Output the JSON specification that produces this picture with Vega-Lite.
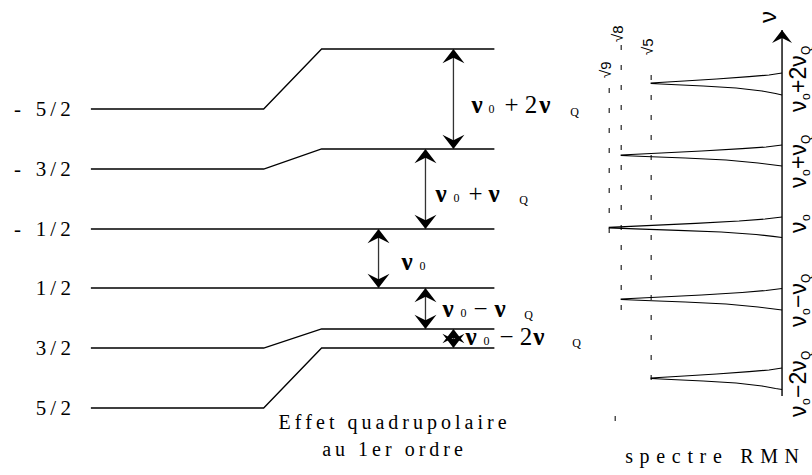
{
  "$schema": "https://vega.github.io/schema/vega-lite/v6.json",
  "width": 812,
  "height": 475,
  "autosize": {"type": "fit", "contains": "padding"},
  "padding": 0,
  "background": "white",
  "config": {"view": {"stroke": null}},
  "datasets": {
    "levels": [
      {"m": "-5/2", "label": "-\u2002\u20095\u2009/\u20092", "i": 0, "x": 91, "y": 109},
      {"m": "-5/2", "label": "", "i": 1, "x": 264, "y": 109},
      {"m": "-5/2", "label": "", "i": 2, "x": 322, "y": 49},
      {"m": "-5/2", "label": "", "i": 3, "x": 495, "y": 49},
      {"m": "-3/2", "label": "-\u2002\u20093\u2009/\u20092", "i": 0, "x": 91, "y": 169},
      {"m": "-3/2", "label": "", "i": 1, "x": 264, "y": 169},
      {"m": "-3/2", "label": "", "i": 2, "x": 322, "y": 149},
      {"m": "-3/2", "label": "", "i": 3, "x": 495, "y": 149},
      {"m": "-1/2", "label": "-\u2002\u20091\u2009/\u20092", "i": 0, "x": 91, "y": 229},
      {"m": "-1/2", "label": "", "i": 3, "x": 495, "y": 229},
      {"m": "1/2", "label": "1\u2009/\u20092", "i": 0, "x": 91, "y": 288},
      {"m": "1/2", "label": "", "i": 3, "x": 495, "y": 288},
      {"m": "3/2", "label": "3\u2009/\u20092", "i": 0, "x": 91, "y": 348},
      {"m": "3/2", "label": "", "i": 1, "x": 264, "y": 348},
      {"m": "3/2", "label": "", "i": 2, "x": 322, "y": 329},
      {"m": "3/2", "label": "", "i": 3, "x": 495, "y": 329},
      {"m": "5/2", "label": "5\u2009/\u20092", "i": 0, "x": 91, "y": 408},
      {"m": "5/2", "label": "", "i": 1, "x": 264, "y": 408},
      {"m": "5/2", "label": "", "i": 2, "x": 322, "y": 348},
      {"m": "5/2", "label": "", "i": 3, "x": 495, "y": 348}
    ],
    "transitions": [
      {"t": "v0+2vQ", "x": 454, "y": 49, "y2": 149},
      {"t": "v0+vQ", "x": 426, "y": 149, "y2": 229},
      {"t": "v0", "x": 379, "y": 229, "y2": 288},
      {"t": "v0-vQ", "x": 426, "y": 288, "y2": 329},
      {"t": "v0-2vQ", "x": 454, "y": 329, "y2": 348}
    ],
    "transitionText": [
      {"t": "ν", "k": "nu", "x": 472, "y": 113},
      {"t": "0", "k": "small", "x": 489, "y": 113},
      {"t": "+ 2", "k": "big", "x": 505, "y": 113},
      {"t": "ν", "k": "nu", "x": 540, "y": 113},
      {"t": "Q", "k": "small", "x": 571, "y": 116},
      {"t": "ν", "k": "nu", "x": 436, "y": 202},
      {"t": "0", "k": "small", "x": 454, "y": 202},
      {"t": "+", "k": "big", "x": 469, "y": 202},
      {"t": "ν", "k": "nu", "x": 489, "y": 202},
      {"t": "Q", "k": "small", "x": 520, "y": 204},
      {"t": "ν", "k": "nu", "x": 402, "y": 270},
      {"t": "0", "k": "small", "x": 420, "y": 270},
      {"t": "ν", "k": "nu", "x": 443, "y": 317},
      {"t": "0", "k": "small", "x": 461, "y": 317},
      {"t": "−", "k": "big", "x": 474, "y": 317},
      {"t": "ν", "k": "nu", "x": 495, "y": 317},
      {"t": "Q", "k": "small", "x": 525, "y": 319},
      {"t": "ν", "k": "nu", "x": 466, "y": 345},
      {"t": "0", "k": "small", "x": 484, "y": 345},
      {"t": "− 2", "k": "big", "x": 500, "y": 345},
      {"t": "ν", "k": "nu", "x": 534, "y": 345},
      {"t": "Q", "k": "small", "x": 573, "y": 347}
    ],
    "ratios": [
      {"r": "√9", "x": 610, "y": 88, "y2": 247, "ly": 78},
      {"r": "√8", "x": 622, "y": 45, "y2": 320, "ly": 42},
      {"r": "√5", "x": 652, "y": 75, "y2": 393, "ly": 55},
      {"r": "", "x": 616, "y": 416, "y2": 421, "ly": 0}
    ],
    "peaks": [
      {"p": 1, "i": 0, "x": 783, "y": 73}, {"p": 1, "i": 1, "x": 770, "y": 75}, {"p": 1, "i": 2, "x": 750, "y": 76.7},
      {"p": 1, "i": 3, "x": 717.5, "y": 79}, {"p": 1, "i": 4, "x": 685, "y": 81}, {"p": 1, "i": 5, "x": 652, "y": 83},
      {"p": 1, "i": 6, "x": 652, "y": 83.5}, {"p": 1, "i": 7, "x": 672, "y": 84.5}, {"p": 1, "i": 8, "x": 704, "y": 86},
      {"p": 1, "i": 9, "x": 737, "y": 88}, {"p": 1, "i": 10, "x": 763, "y": 91}, {"p": 1, "i": 11, "x": 776.5, "y": 93.5},
      {"p": 1, "i": 12, "x": 783, "y": 95},
      {"p": 2, "i": 0, "x": 783, "y": 145}, {"p": 2, "i": 1, "x": 767, "y": 147}, {"p": 2, "i": 2, "x": 743, "y": 148.7},
      {"p": 2, "i": 3, "x": 702.5, "y": 151}, {"p": 2, "i": 4, "x": 662, "y": 153}, {"p": 2, "i": 5, "x": 622, "y": 155},
      {"p": 2, "i": 6, "x": 622, "y": 155.5}, {"p": 2, "i": 7, "x": 646, "y": 156.5}, {"p": 2, "i": 8, "x": 686, "y": 158},
      {"p": 2, "i": 9, "x": 727, "y": 160}, {"p": 2, "i": 10, "x": 759, "y": 163}, {"p": 2, "i": 11, "x": 775, "y": 165},
      {"p": 2, "i": 12, "x": 783, "y": 166},
      {"p": 3, "i": 0, "x": 783, "y": 217}, {"p": 3, "i": 1, "x": 766, "y": 219}, {"p": 3, "i": 2, "x": 740, "y": 221},
      {"p": 3, "i": 3, "x": 696.5, "y": 223.3}, {"p": 3, "i": 4, "x": 653, "y": 225.3}, {"p": 3, "i": 5, "x": 610, "y": 227.3},
      {"p": 3, "i": 6, "x": 610, "y": 227.8}, {"p": 3, "i": 7, "x": 636, "y": 228.8}, {"p": 3, "i": 8, "x": 679, "y": 230.3},
      {"p": 3, "i": 9, "x": 722, "y": 232}, {"p": 3, "i": 10, "x": 757, "y": 234.5}, {"p": 3, "i": 11, "x": 774, "y": 236.3},
      {"p": 3, "i": 12, "x": 783, "y": 237.5},
      {"p": 4, "i": 0, "x": 783, "y": 288.5}, {"p": 4, "i": 1, "x": 767, "y": 290.5}, {"p": 4, "i": 2, "x": 743, "y": 292.5},
      {"p": 4, "i": 3, "x": 702.5, "y": 295}, {"p": 4, "i": 4, "x": 662, "y": 297}, {"p": 4, "i": 5, "x": 622, "y": 299},
      {"p": 4, "i": 6, "x": 622, "y": 299.5}, {"p": 4, "i": 7, "x": 646, "y": 300.5}, {"p": 4, "i": 8, "x": 686, "y": 302},
      {"p": 4, "i": 9, "x": 727, "y": 304}, {"p": 4, "i": 10, "x": 759, "y": 307}, {"p": 4, "i": 11, "x": 775, "y": 309},
      {"p": 4, "i": 12, "x": 783, "y": 310},
      {"p": 5, "i": 0, "x": 783, "y": 368}, {"p": 5, "i": 1, "x": 770, "y": 370}, {"p": 5, "i": 2, "x": 750, "y": 371.7},
      {"p": 5, "i": 3, "x": 717.5, "y": 374}, {"p": 5, "i": 4, "x": 685, "y": 376}, {"p": 5, "i": 5, "x": 652, "y": 378},
      {"p": 5, "i": 6, "x": 652, "y": 378.5}, {"p": 5, "i": 7, "x": 672, "y": 379.5}, {"p": 5, "i": 8, "x": 704, "y": 381},
      {"p": 5, "i": 9, "x": 737, "y": 383}, {"p": 5, "i": 10, "x": 763, "y": 386}, {"p": 5, "i": 11, "x": 776.5, "y": 388.5},
      {"p": 5, "i": 12, "x": 783, "y": 389.5}
    ],
    "freqAxis": [
      {"x": 783, "y": 30, "y2": 396}
    ],
    "peakText": [
      {"t": "ν", "k": "big", "x": 783, "y": 112},
      {"t": "o", "k": "small", "x": 783, "y": 100},
      {"t": "+2ν", "k": "big", "x": 783, "y": 93},
      {"t": "Q", "k": "small", "x": 783, "y": 55},
      {"t": "ν", "k": "big", "x": 783, "y": 188},
      {"t": "o", "k": "small", "x": 783, "y": 176},
      {"t": "+ν", "k": "big", "x": 783, "y": 169},
      {"t": "Q", "k": "small", "x": 783, "y": 144},
      {"t": "ν", "k": "big", "x": 783, "y": 233},
      {"t": "o", "k": "small", "x": 783, "y": 221},
      {"t": "ν", "k": "big", "x": 783, "y": 327},
      {"t": "o", "k": "small", "x": 783, "y": 315},
      {"t": "−ν", "k": "big", "x": 783, "y": 308},
      {"t": "Q", "k": "small", "x": 783, "y": 283},
      {"t": "ν", "k": "big", "x": 783, "y": 417},
      {"t": "o", "k": "small", "x": 783, "y": 405},
      {"t": "−2ν", "k": "big", "x": 783, "y": 398},
      {"t": "Q", "k": "small", "x": 783, "y": 360},
      {"t": "ν", "k": "axis", "x": 783, "y": 23}
    ],
    "captions": [
      {"t": "E\u2009f\u2009f\u2009e\u2009t\u2009 \u2009q\u2009u\u2009a\u2009d\u2009r\u2009u\u2009p\u2009o\u2009l\u2009a\u2009i\u2009r\u2009e", "x": 393, "y": 429},
      {"t": "a\u2009u\u2009 \u20091\u2009e\u2009r\u2009 \u2009o\u2009r\u2009d\u2009r\u2009e", "x": 393, "y": 456},
      {"t": "s\u2004p\u2004e\u2004c\u2004t\u2004r\u2004e\u2004 \u2004R\u2004M\u2004N", "x": 713, "y": 463}
    ]
  },
  "encoding": {
    "x": {"field": "x", "type": "quantitative", "scale": {"domain": [0, 812], "nice": false, "zero": false}, "axis": null},
    "y": {"field": "y", "type": "quantitative", "scale": {"domain": [0, 475], "reverse": true, "nice": false, "zero": false}, "axis": null}
  },
  "layer": [
    {
      "data": {"name": "levels"},
      "mark": {"type": "line", "color": "black", "strokeWidth": 1.3},
      "encoding": {"detail": {"field": "m"}, "order": {"field": "i", "type": "quantitative"}}
    },
    {
      "data": {"name": "levels"},
      "transform": [{"filter": "datum.i == 0"}],
      "mark": {"type": "text", "font": "Liberation Serif", "fontSize": 21, "align": "right", "baseline": "alphabetic", "dx": -20, "dy": 7, "color": "black"},
      "encoding": {"text": {"field": "label"}}
    },
    {
      "data": {"name": "transitions"},
      "mark": {"type": "rule", "color": "#333", "strokeWidth": 1.3},
      "encoding": {"y2": {"field": "y2"}}
    },
    {
      "data": {"name": "transitions"},
      "transform": [{"fold": ["y", "y2"], "as": ["end", "yv"]}],
      "mark": {"type": "point", "filled": true, "color": "black", "opacity": 1, "size": 484},
      "encoding": {
        "y": {"field": "yv", "type": "quantitative"},
        "shape": {"field": "end", "type": "nominal", "scale": {"domain": ["y", "y2"], "range": ["M0,0L1,1.3L0,0.8L-1,1.3Z", "M0,0L1,-1.3L0,-0.8L-1,-1.3Z"]}, "legend": null}
      }
    },
    {
      "data": {"name": "transitionText"},
      "transform": [{"filter": "datum.k == 'nu'"}],
      "mark": {"type": "text", "font": "Liberation Serif", "fontSize": 25, "fontWeight": "bold", "align": "left", "baseline": "alphabetic", "color": "black"},
      "encoding": {"text": {"field": "t"}}
    },
    {
      "data": {"name": "transitionText"},
      "transform": [{"filter": "datum.k == 'big'"}],
      "mark": {"type": "text", "font": "Liberation Serif", "fontSize": 25, "align": "left", "baseline": "alphabetic", "color": "black"},
      "encoding": {"text": {"field": "t"}}
    },
    {
      "data": {"name": "transitionText"},
      "transform": [{"filter": "datum.k == 'small'"}],
      "mark": {"type": "text", "font": "Liberation Serif", "fontSize": 12, "align": "left", "baseline": "alphabetic", "color": "black"},
      "encoding": {"text": {"field": "t"}}
    },
    {
      "data": {"name": "ratios"},
      "mark": {"type": "rule", "color": "#444", "strokeWidth": 1.4, "strokeDash": [5, 15]},
      "encoding": {"y2": {"field": "y2"}}
    },
    {
      "data": {"name": "ratios"},
      "mark": {"type": "text", "font": "Liberation Sans", "fontSize": 15, "angle": 270, "align": "left", "baseline": "alphabetic", "dy": 2, "color": "black"},
      "encoding": {"y": {"field": "ly", "type": "quantitative"}, "text": {"field": "r"}}
    },
    {
      "data": {"name": "peaks"},
      "mark": {"type": "line", "color": "black", "strokeWidth": 1.2},
      "encoding": {"detail": {"field": "p"}, "order": {"field": "i", "type": "quantitative"}}
    },
    {
      "data": {"name": "freqAxis"},
      "mark": {"type": "rule", "color": "black", "strokeWidth": 1.4},
      "encoding": {"y2": {"field": "y2"}}
    },
    {
      "data": {"name": "freqAxis"},
      "mark": {"type": "point", "filled": true, "color": "black", "opacity": 1, "size": 400, "shape": "M0,0L1,1.3L0,0.8L-1,1.3Z"},
      "encoding": {}
    },
    {
      "data": {"name": "peakText"},
      "transform": [{"filter": "datum.k == 'big'"}],
      "mark": {"type": "text", "font": "Liberation Sans", "fontSize": 23, "angle": 270, "align": "left", "baseline": "alphabetic", "dy": 24, "color": "black"},
      "encoding": {"text": {"field": "t"}}
    },
    {
      "data": {"name": "peakText"},
      "transform": [{"filter": "datum.k == 'small'"}],
      "mark": {"type": "text", "font": "Liberation Sans", "fontSize": 12, "angle": 270, "align": "left", "baseline": "alphabetic", "dy": 28, "color": "black"},
      "encoding": {"text": {"field": "t"}}
    },
    {
      "data": {"name": "peakText"},
      "transform": [{"filter": "datum.k == 'axis'"}],
      "mark": {"type": "text", "font": "Liberation Sans", "fontSize": 24, "angle": 270, "align": "left", "baseline": "alphabetic", "dy": -6, "color": "black"},
      "encoding": {"text": {"field": "t"}}
    },
    {
      "data": {"name": "captions"},
      "mark": {"type": "text", "font": "Liberation Serif", "fontSize": 20, "align": "center", "baseline": "alphabetic", "color": "black"},
      "encoding": {"text": {"field": "t"}}
    }
  ]
}
